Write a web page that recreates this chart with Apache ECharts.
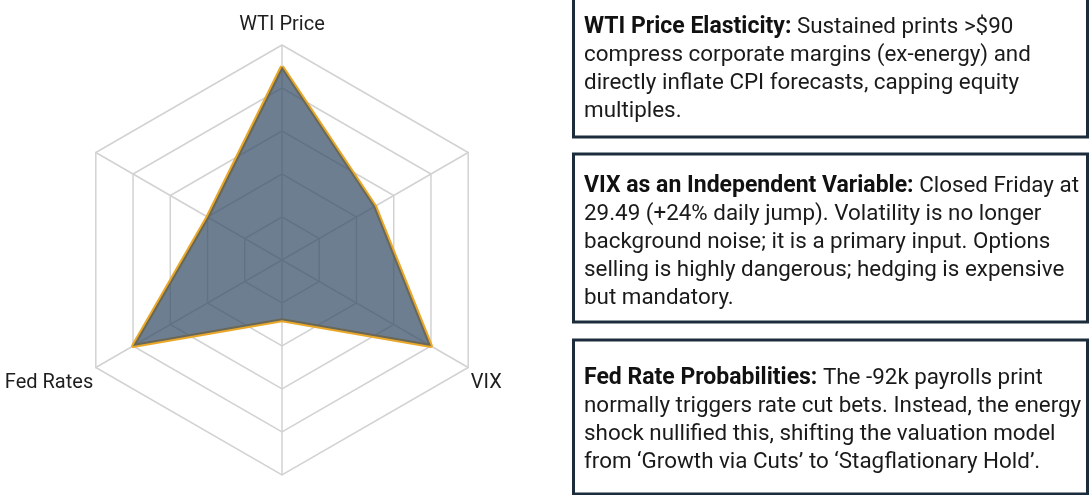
<!DOCTYPE html>
<html>
<head>
<meta charset="utf-8">
<script src="https://cdn.jsdelivr.net/npm/echarts@6/dist/echarts.min.js"></script>
<style>
  html, body { margin: 0; padding: 0; background: #fff; }
  #main { width: 1089px; height: 495px; }
</style>
</head>
<body>
<div id="main"></div>
<script>
// radar axes, counter-clockwise from the top (blank names = unlabeled spokes)
const indicatorNames = ['WTI Price', '', 'Fed Rates', '', 'VIX', '']
const indicatorMax = [100, 100, 100, 100, 100, 100]
const riskValues = [90, 40, 80, 28, 80, 50]

// side notes: bold heading + body lines
const noteTitles = [
  'WTI Price Elasticity:',
  'VIX as an Independent Variable:',
  'Fed Rate Probabilities:'
]
const noteBodies = [
  ' Sustained prints >$90\ncompress corporate margins (ex-energy) and\ndirectly inflate CPI forecasts, capping equity\nmultiples.',
  ' Closed Friday at\n29.49 (+24% daily jump). Volatility is no longer\nbackground noise; it is a primary input. Options\nselling is highly dangerous; hedging is expensive\nbut mandatory.',
  ' The -92k payrolls print\nnormally triggers rate cut bets. Instead, the energy\nshock nullified this, shifting the valuation model\nfrom \u2018Growth via Cuts\u2019 to \u2018Stagflationary Hold\u2019.'
]

const boxes = [
  {top: -4, bottom: 137, textTop: 13},
  {top: 154, bottom: 322, textTop: 172},
  {top: 340, bottom: 494, textTop: 364}
]

const FONT = 'Roboto, "Noto Sans", sans-serif'

function buildNotes() {
  let els = []
  boxes.forEach(function (b, i) {
    els.push({
      type: 'rect',
      shape: {x: 573.5, y: b.top, width: 514, height: b.bottom - b.top},
      style: {fill: '#fff', stroke: '#1d2c3c', lineWidth: 3}
    })
    els.push({
      type: 'text',
      x: 584,
      y: b.textTop,
      style: {
        text: '{b|' + noteTitles[i] + '}' + noteBodies[i],
        font: '22.4px ' + FONT,
        fill: '#1a1a1a',
        lineHeight: 28,
        rich: {
          b: {fontWeight: 'bold', fontSize: 23, fontFamily: FONT, fill: '#111', lineHeight: 28}
        }
      }
    })
  })
  return els
}

const chart = echarts.init(document.getElementById('main'))
chart.setOption({
  backgroundColor: '#fff',
  radar: {
    center: [282, 260],
    radius: 215,
    splitNumber: 5,
    indicator: indicatorNames.map(function (n, i) { return {name: n, max: indicatorMax[i]} }),
    axisName: {
      color: '#1e1e1e', fontSize: 20, fontFamily: FONT, lineHeight: 27, padding: [0, 0, 4, 0],
      // push the lower labels down a little
      formatter: function (name) { return name === indicatorNames[0] ? name : '\n' + name }
    },
    nameGap: 3,
    splitArea: {show: false},
    splitLine: {lineStyle: {color: '#d2d2d2', width: 1.5}},
    axisLine: {lineStyle: {color: '#d2d2d2', width: 1.5}}
  },
  series: [{
    type: 'radar',
    symbol: 'none',
    data: [{
      value: riskValues,
      areaStyle: {color: '#3a5169', opacity: 0.74},
      lineStyle: {color: '#eaa82a', width: 4}
    }]
  }],
  graphic: buildNotes()
})
</script>
</body>
</html>
